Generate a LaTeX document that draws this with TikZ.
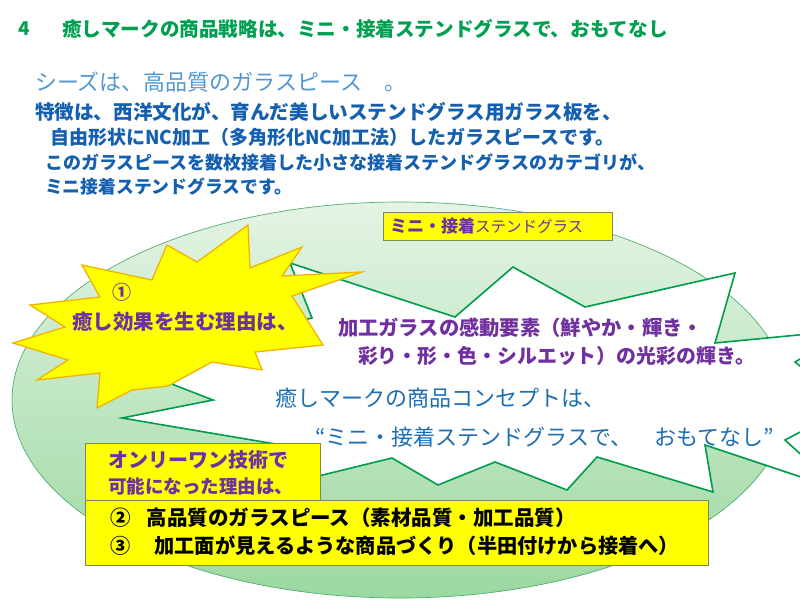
\documentclass[tikz,border=0pt]{standalone}
\usepackage{fontspec}
\setmainfont{Noto Sans CJK JP}
\definecolor{titlegreen}{RGB}{0,160,80}
\definecolor{seedblue}{RGB}{80,150,210}
\definecolor{boldblue}{RGB}{20,95,175}
\definecolor{conceptblue}{RGB}{30,110,180}
\definecolor{purp}{RGB}{112,48,160}
\definecolor{stargreen}{RGB}{0,155,75}
\definecolor{elltop}{RGB}{228,244,228}
\definecolor{ellbot}{RGB}{155,216,160}
\definecolor{ellline}{RGB}{80,175,115}
\definecolor{ylw}{RGB}{255,255,0}
\definecolor{ylwline}{RGB}{240,180,0}
\definecolor{boxline}{RGB}{120,140,90}
\tikzset{
  txt/.style={anchor=west,inner sep=0pt,outer sep=0pt},
  ybox/.style={fill=ylw,draw=boxline,line width=0.8pt},
}
\newcommand{\fs}[1]{\fontsize{#1}{#1}\selectfont}
\begin{document}
\begin{tikzpicture}[x=1pt,y=-1pt]
\useasboundingbox (0,0) rectangle (800,600);
\clip (0,0) rectangle (800,600);
\fill[white] (0,0) rectangle (800,600);
% ellipse
\path[top color=elltop,bottom color=ellbot,draw=ellline,line width=0.7pt]
  (400,400) ellipse [x radius=388, y radius=198];
% white burst
\path[fill=white,draw=stargreen,line width=1.6pt,line join=miter]
  (290,263) -- (455,317) -- (513,267) -- (585,307) -- (735,273) -- (715,343)
  -- (850,330) -- (795,362) -- (850,406) -- (785,440) -- (840,490) -- (705,445)
  -- (713,492) -- (597,457) -- (567,490) -- (495,462) -- (438,485) -- (392,458)
  -- (298,481) -- (305,449) -- (122,418) -- (213,400) -- (120,364) -- (312,318) -- cycle;
% yellow burst
\path[fill=ylw,draw=ylwline,line width=1.3pt,line join=miter]
  (248,225) -- (250,268) -- (302,247) -- (282,276) -- (362,272) -- (292,296)
  -- (323,345) -- (255,352) -- (262,370) -- (212,362) -- (168,386) -- (132,390)
  -- (97,408) -- (100,373) -- (37,380) -- (68,360) -- (13,343) -- (65,327)
  -- (30,305) -- (100,297) -- (82,265) -- (152,280) -- (167,245) -- (197,262) -- cycle;
% boxes
\path[ybox] (383,212) rectangle (612,240);
\path[ybox] (85,443) rectangle (320,500);
\path[ybox] (85,500) rectangle (708,565);
% title and header texts
\node[txt,text=titlegreen,font=\fs{19}\bfseries] (num) at (18,29) {4};
\node[txt,text=titlegreen,font=\fs{19.6}\bfseries] (title) at (62,29) {癒しマークの商品戦略は、ミニ・接着ステンドグラスで、おもてなし};
\node[txt,text=seedblue,font=\fs{22}] (seeds) at (35,82) {シーズは、高品質のガラスピース　。};
\node[txt,text=boldblue,font=\fs{19.6}\bfseries] (l1) at (35,112) {特徴は、西洋文化が、育んだ美しいステンドグラス用ガラス板を、};
\node[txt,text=boldblue,font=\fs{19}\bfseries] (l2) at (50,137) {自由形状にNC加工（多角形化NC加工法）したガラスピースです。};
\node[txt,text=boldblue,font=\fs{18}\bfseries] (l3) at (45,162) {このガラスピースを数枚接着した小さな接着ステンドグラスのカテゴリが、};
\node[txt,text=boldblue,font=\fs{17.8}\bfseries] (l4) at (45,187) {ミニ接着ステンドグラスです。};
% box1 text
\node[txt,text=purp] (mini) at (390,226) {{\fs{17}\bfseries ミニ・接着}{\fs{15.5}ステンドグラス}};
% yellow burst text
\node[inner sep=0pt,text=purp,font=\fs{19}\bfseries] (c1) at (122,292) {①};
\node[txt,text=purp,font=\fs{20.5}\bfseries] (reason) at (72,322) {癒し効果を生む理由は、};
% white burst texts
\node[txt,text=purp,font=\fs{20.3}\bfseries] (k1) at (338,328) {加工ガラスの感動要素（鮮やか・輝き・};
\node[txt,text=purp,font=\fs{19.9}\bfseries] (k2) at (358,356) {彩り・形・色・シルエット）の光彩の輝き。};
\node[txt,text=conceptblue,font=\fs{22}] (cp1) at (275,398) {癒しマークの商品コンセプトは、};
\node[txt,text=conceptblue,font=\fs{22}] (cp2) at (315,437) {“ミニ・接着ステンドグラスで、　おもてなし”};
% box2 texts
\node[txt,text=purp,font=\fs{20}\bfseries] (only) at (108,460) {オンリーワン技術で};
\node[txt,text=purp,font=\fs{18.5}\bfseries] (poss) at (108,486) {可能になった理由は、};
% box3 texts
\node[txt,text=black,font=\fs{20.5}\bfseries] (r2) at (110,518) {②\hspace{0.8em}高品質のガラスピース（素材品質・加工品質）};
\node[txt,text=black,font=\fs{20.2}\bfseries] (r3) at (110,546) {③\hspace{1.2em}加工面が見えるような商品づくり（半田付けから接着へ）};
\end{tikzpicture}
\end{document}
